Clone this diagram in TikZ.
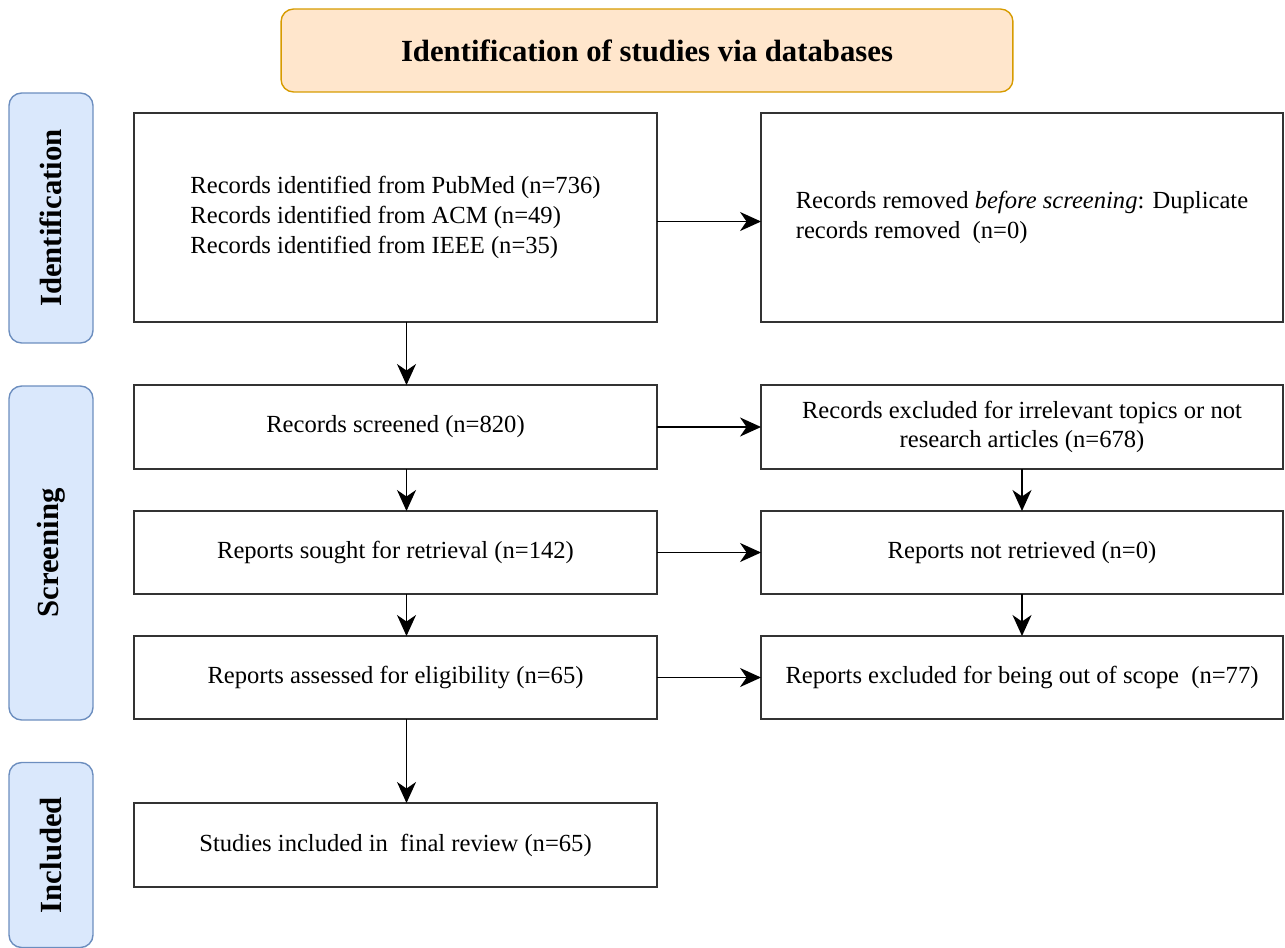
\documentclass[tikz,border=0pt]{standalone}
\usepackage{fontspec}
\setmainfont{Liberation Serif}
\usetikzlibrary{arrows.meta, positioning}

\definecolor{headfill}{HTML}{FFE6CC}
\definecolor{headline}{HTML}{D79B00}
\definecolor{phasefill}{HTML}{DAE8FC}
\definecolor{phaseline}{HTML}{6C8EBF}
\definecolor{boxline}{HTML}{333333}

\begin{document}
\begin{tikzpicture}[
    x=0.02cm, y=-0.02cm,
    box/.style={draw=boxline, line width=0.9pt, outer sep=0pt, align=center,
      font=\fontsize{14}{17}\selectfont},
    lbox/.style={box, minimum width=10.46cm},
    rbox/.style={box, minimum width=10.44cm},
    phase/.style={draw=phaseline, fill=phasefill, line width=0.8pt, rounded corners=0.25cm,
      minimum height=1.68cm, rotate=90, font=\fontsize{17.5}{20}\selectfont\bfseries},
    arr/.style={-{Stealth[length=4.2mm, width=3.8mm, inset=1.3mm]}, line width=0.9pt, draw=black}
  ]
    \useasboundingbox (0,0) rectangle (1285,947);
    \clip (0,0) rectangle (1285,947);

    % header and phases
    \node[draw=headline, fill=headfill, line width=0.8pt, rounded corners=0.25cm,
      minimum width=14.64cm, minimum height=1.66cm, font=\fontsize{17.5}{20}\selectfont\bfseries]
      (head) at (647,50.5) {Identification of studies via databases};
    \node[phase, minimum width=5.0cm] (identph) at (51,218) {Identification};
    \node[phase, minimum width=6.68cm] (screenph) at (51,553) {Screening};
    \node[phase, minimum width=3.7cm] (inclph) at (51,855) {Included};

    % left column
    \node[lbox, minimum height=4.18cm, align=left] (records) at (395.5,217.5)
      {Records identified from PubMed (n=736)\\Records identified from ACM (n=49)\\Records identified from IEEE (n=35)};
    \node[lbox, minimum height=1.68cm] (screened) at (395.5,427) {Records screened (n=820)};
    \node[lbox, minimum height=1.66cm] (sought) at (395.5,552.5) {Reports sought for retrieval (n=142)};
    \node[lbox, minimum height=1.66cm] (assessed) at (395.5,677.5) {Reports assessed for eligibility (n=65)};
    \node[lbox, minimum height=1.68cm] (included) at (395.5,845) {Studies included in\ \ final review (n=65)};

    % right column
    \node[rbox, minimum height=4.18cm, align=left] (removed) at (1022,217.5)
      {Records removed \textit{before screening}: Duplicate\\records removed\ \ (n=0)};
    \node[rbox, minimum height=1.68cm] (excluded) at (1022,427)
      {Records excluded for irrelevant topics or not\\research articles (n=678)};
    \node[rbox, minimum height=1.66cm] (notret) at (1022,552.5) {Reports not retrieved (n=0)};
    \node[rbox, minimum height=1.66cm] (outscope) at (1022,677.5) {Reports excluded for being out of scope\ \ (n=77)};

    % arrows
    \draw[arr] ([yshift=-0.08cm]records.east) -- ([yshift=-0.08cm]removed.west);
    \draw[arr] ([xshift=0.22cm]records.south) -- ([xshift=0.22cm]screened.north);
    \draw[arr] (screened) -- (excluded);
    \draw[arr] ([xshift=0.22cm]screened.south) -- ([xshift=0.22cm]sought.north);
    \draw[arr] (excluded) -- (notret);
    \draw[arr] (sought) -- (notret);
    \draw[arr] ([xshift=0.22cm]sought.south) -- ([xshift=0.22cm]assessed.north);
    \draw[arr] (notret) -- (outscope);
    \draw[arr] (assessed) -- (outscope);
    \draw[arr] ([xshift=0.22cm]assessed.south) -- ([xshift=0.22cm]included.north);
  \end{tikzpicture}
\end{document}
